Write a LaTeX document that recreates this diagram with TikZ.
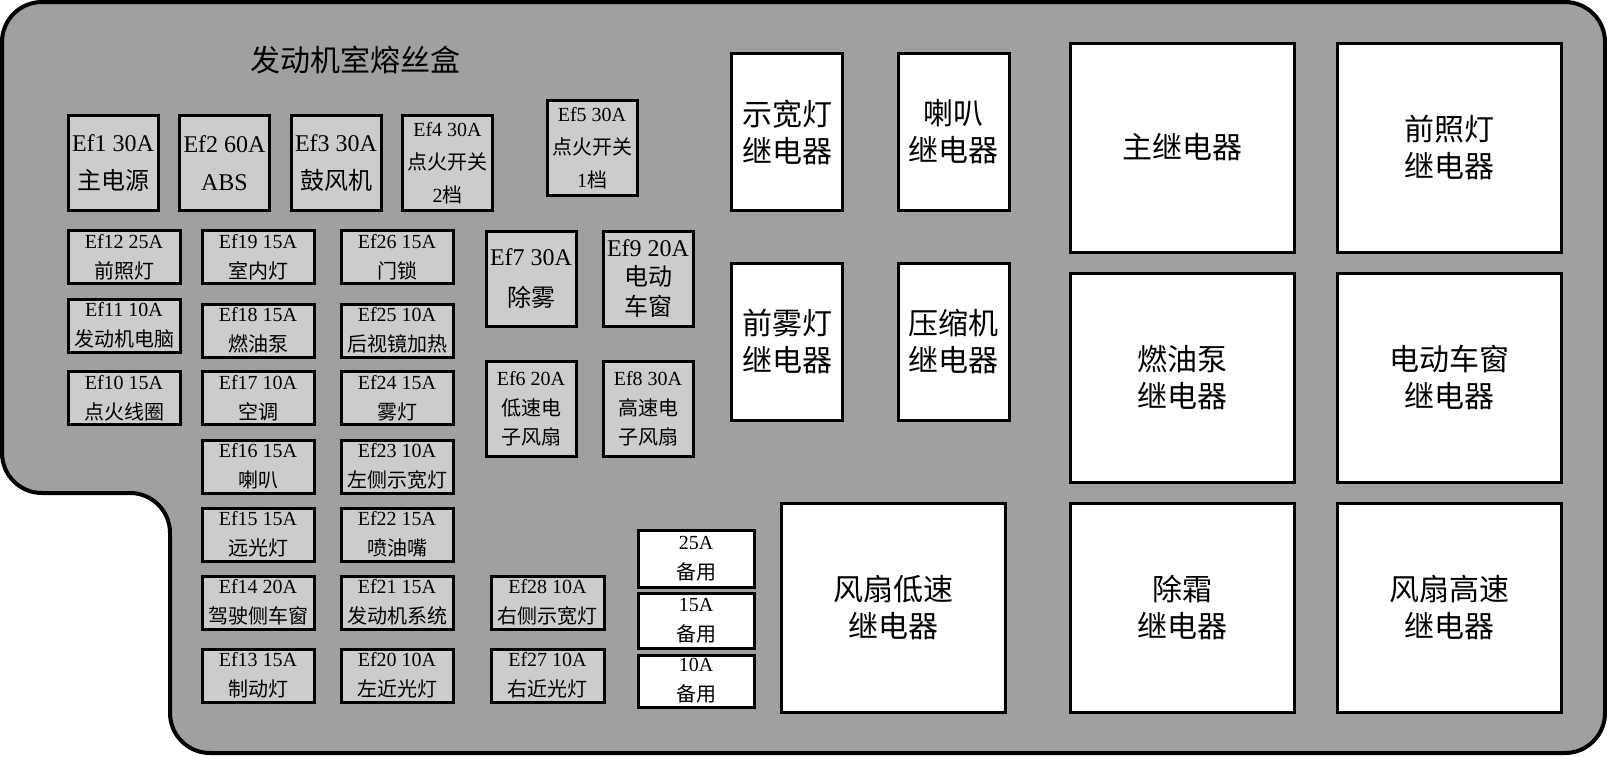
\documentclass[tikz,border=0pt]{standalone}
\usepackage{fontspec}
\setmainfont{Liberation Serif}
\newfontfamily\cjk{Noto Sans CJK SC}
\definecolor{boxgray}{RGB}{160,160,160}
\definecolor{fusegray}{RGB}{204,204,204}
\begin{document}
\begin{tikzpicture}[x=1pt,y=-1pt]
      \tikzstyle{fuse} = [draw, line width=3pt, fill=fusegray, inner sep=0pt, align=center, minimum width=112pt, minimum height=53pt, font=\fontsize{20}{30}\selectfont]
        \tikzstyle{bigfuse} = [fuse, minimum width=90pt, minimum height=95pt, font=\fontsize{24}{38}\selectfont]
        \tikzstyle{spare} = [fuse, fill=white, minimum width=116pt]
      \tikzstyle{relay} = [draw, line width=3pt, fill=white, inner sep=0pt, align=center, minimum width=224pt, minimum height=209pt, font=\cjk\fontsize{30}{37}\selectfont]
        \tikzstyle{smallrelay} = [relay, minimum width=111pt, minimum height=157pt]
          \useasboundingbox (0,0) rectangle (1607,756);
          \draw[line width=4pt, fill=boxgray, rounded corners=40pt]
            (800,2) -- (1605,2) -- (1605,753) -- (170,753) -- (170,493) -- (2,493) -- (2,2) -- cycle;
          \node[font=\cjk\fontsize{30}{30}\selectfont] (title) at (355,60) {发动机室熔丝盒};
          % large fuses
          \node[bigfuse] (ef1) at (113,163) {Ef1 30A\\{\cjk 主电源}};
          \node[bigfuse] (ef2) at (224.5,163) {Ef2 60A\\ABS};
          \node[bigfuse] (ef3) at (336,163) {Ef3 30A\\{\cjk 鼓风机}};
          \node[bigfuse, font=\fontsize{20}{33}\selectfont] (ef4) at (447.5,163) {Ef4 30A\\{\cjk 点火开关}\\2{\cjk 档}};
          \node[bigfuse, font=\fontsize{20}{33}\selectfont] (ef5) at (592,148) {Ef5 30A\\{\cjk 点火开关}\\1{\cjk 档}};
          \node[bigfuse, font=\fontsize{24}{41}\selectfont] (ef7) at (531,278.5) {Ef7 30A\\{\cjk 除雾}};
          \node[bigfuse, font=\fontsize{24}{29.5}\selectfont] (ef9) at (648,278.5) {Ef9 20A\\{\cjk 电动}\\{\cjk 车窗}};
          \node[bigfuse, font=\fontsize{20}{29.5}\selectfont] (ef6) at (531,409) {Ef6 20A\\{\cjk 低速电}\\{\cjk 子风扇}};
          \node[bigfuse, font=\fontsize{20}{29.5}\selectfont] (ef8) at (648,409) {Ef8 30A\\{\cjk 高速电}\\{\cjk 子风扇}};
          % small fuses
          \node[fuse] (ef12) at (124,257) {Ef12 25A\\{\cjk 前照灯}};
          \node[fuse] (ef11) at (124,325.5) {Ef11 10A\\{\cjk 发动机电脑}};
          \node[fuse] (ef10) at (124,398) {Ef10 15A\\{\cjk 点火线圈}};
          \node[fuse] (ef19) at (258,257) {Ef19 15A\\{\cjk 室内灯}};
          \node[fuse] (ef18) at (258,330.5) {Ef18 15A\\{\cjk 燃油泵}};
          \node[fuse] (ef17) at (258,398) {Ef17 10A\\{\cjk 空调}};
          \node[fuse] (ef16) at (258,466.5) {Ef16 15A\\{\cjk 喇叭}};
          \node[fuse] (ef15) at (258,534.5) {Ef15 15A\\{\cjk 远光灯}};
          \node[fuse] (ef14) at (258,602.5) {Ef14 20A\\{\cjk 驾驶侧车窗}};
          \node[fuse] (ef13) at (258,675.5) {Ef13 15A\\{\cjk 制动灯}};
          \node[fuse] (ef26) at (397,257) {Ef26 15A\\{\cjk 门锁}};
          \node[fuse] (ef25) at (397,330.5) {Ef25 10A\\{\cjk 后视镜加热}};
          \node[fuse] (ef24) at (397,398) {Ef24 15A\\{\cjk 雾灯}};
          \node[fuse] (ef23) at (397,466.5) {Ef23 10A\\{\cjk 左侧示宽灯}};
          \node[fuse] (ef22) at (397,534.5) {Ef22 15A\\{\cjk 喷油嘴}};
          \node[fuse] (ef21) at (397,602.5) {Ef21 15A\\{\cjk 发动机系统}};
          \node[fuse] (ef20) at (397,675.5) {Ef20 10A\\{\cjk 左近光灯}};
          \node[fuse, minimum width=113pt] (ef28) at (547.5,602.5) {Ef28 10A\\{\cjk 右侧示宽灯}};
          \node[fuse, minimum width=113pt] (ef27) at (547.5,675.5) {Ef27 10A\\{\cjk 右近光灯}};
          % spare fuses
          \node[spare, minimum height=57pt] (spare25) at (696,558.5) {25A\\{\cjk 备用}};
          \node[spare, minimum height=55pt] (spare15) at (696,620.5) {15A\\{\cjk 备用}};
          \node[spare, minimum height=52pt] (spare10) at (696,681) {10A\\{\cjk 备用}};
          % relays
          \node[smallrelay] (rlamp) at (787,132) {示宽灯\\继电器};
          \node[smallrelay] (rhorn) at (953.5,132) {喇叭\\继电器};
          \node[smallrelay] (rfog) at (787,341.5) {前雾灯\\继电器};
          \node[smallrelay] (rcomp) at (953.5,341.5) {压缩机\\继电器};
          \node[relay] (rmain) at (1182,147.5) {主继电器};
          \node[relay] (rhead) at (1449.5,147.5) {前照灯\\继电器};
          \node[relay] (rpump) at (1182,377.5) {燃油泵\\继电器};
          \node[relay] (rwin) at (1449.5,377.5) {电动车窗\\继电器};
          \node[relay] (rfanlow) at (893,607.5) {风扇低速\\继电器};
          \node[relay] (rdefrost) at (1182,607.5) {除霜\\继电器};
          \node[relay] (rfanhigh) at (1449.5,607.5) {风扇高速\\继电器};
\end{tikzpicture}
\end{document}
